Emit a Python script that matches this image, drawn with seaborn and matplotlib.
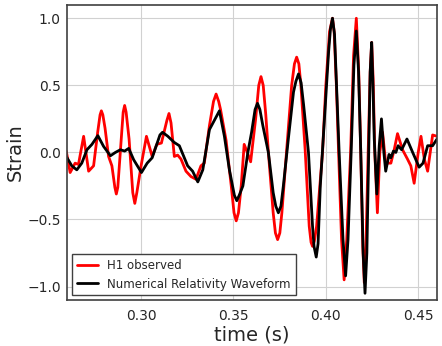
import numpy as np
import pandas as pd
import matplotlib
matplotlib.use("Agg")
import matplotlib.pyplot as plt
import seaborn as sns

# ---------------------------------------------------------
# data (time in s, normalised strain)
# ---------------------------------------------------------
h1_time = [0.2595, 0.2616, 0.2643, 0.2661, 0.2689, 0.2716, 0.2743, 0.2765, 0.2778, 0.2785,
           0.2793, 0.2805, 0.2824, 0.2842, 0.2858, 0.2866, 0.2874, 0.2890, 0.2903, 0.2911,
           0.2919, 0.2935, 0.2955, 0.2966, 0.2977, 0.3000, 0.3029, 0.3060, 0.3085, 0.3110,
           0.3140, 0.3151, 0.3162, 0.3180, 0.3198, 0.3216, 0.3243, 0.3270, 0.3297, 0.3324,
           0.3342, 0.3370, 0.3392, 0.3406, 0.3420, 0.3430, 0.3460, 0.3488, 0.3503, 0.3515,
           0.3527, 0.3542, 0.3558, 0.3575, 0.3593, 0.3620, 0.3637, 0.3649, 0.3661, 0.3675,
           0.3689, 0.3715, 0.3727, 0.3739, 0.3751, 0.3762, 0.3788, 0.3815, 0.3830, 0.3842,
           0.3854, 0.3865, 0.3888, 0.3910, 0.3920, 0.3928, 0.3938, 0.3950, 0.3982, 0.4000,
           0.4020, 0.4036, 0.4045, 0.4057, 0.4069, 0.4085, 0.4099, 0.4113, 0.4134, 0.4150,
           0.4165, 0.4178, 0.4189, 0.4200, 0.4208, 0.4217, 0.4229, 0.4240, 0.4248, 0.4256,
           0.4265, 0.4279, 0.4292, 0.4307, 0.4324, 0.4352, 0.4370, 0.4388, 0.4415, 0.4442,
           0.4460, 0.4478, 0.4500, 0.4515, 0.4533, 0.4551, 0.4578, 0.4602]
h1_strain = [0.01, -0.15, -0.08, -0.09, 0.12, -0.14, -0.10, 0.15, 0.28, 0.31,
             0.28, 0.18, -0.03, -0.10, -0.26, -0.31, -0.26, 0.05, 0.30, 0.35,
             0.30, 0.10, -0.30, -0.38, -0.30, -0.10, 0.12, -0.03, 0.06, 0.07,
             0.24, 0.29, 0.22, -0.03, -0.02, -0.05, -0.14, -0.18, -0.20, -0.10,
             -0.08, 0.20, 0.38, 0.435, 0.38, 0.32, 0.09, -0.25, -0.45, -0.51,
             -0.45, -0.25, 0.06, 0.0, -0.07, 0.25, 0.50, 0.565, 0.50, 0.28,
             0.0, -0.45, -0.60, -0.65, -0.60, -0.45, 0.02, 0.50, 0.66, 0.71,
             0.66, 0.50, 0.02, -0.55, -0.67, -0.70, -0.66, -0.55, 0.0, 0.50,
             0.90, 1.0, 0.90, 0.50, 0.0, -0.65, -0.95, -0.65, 0.0, 0.72,
             1.0, 0.60, 0.0, -0.70, -0.97, -0.70, 0.0, 0.60, 0.82, 0.55,
             0.0, -0.45, 0.0, 0.15, -0.08, -0.08, 0.02, 0.14, 0.02, -0.05,
             -0.10, -0.23, 0.0, 0.12, -0.05, -0.14, 0.13, 0.12]

nr_time = [0.2595, 0.2625, 0.2652, 0.2679, 0.2707, 0.2734, 0.2766, 0.2797, 0.2834, 0.2861,
           0.2888, 0.2911, 0.2933, 0.2960, 0.3002, 0.3033, 0.3060, 0.3102, 0.3116, 0.3145,
           0.3179, 0.3207, 0.3252, 0.3279, 0.3307, 0.3334, 0.3370, 0.3397, 0.3424, 0.3451,
           0.3478, 0.3505, 0.3518, 0.3531, 0.3551, 0.3578, 0.3598, 0.3617, 0.3630, 0.3643,
           0.3659, 0.3689, 0.3715, 0.3729, 0.3743, 0.3757, 0.3770, 0.3797, 0.3825, 0.3838,
           0.3852, 0.3866, 0.3880, 0.3906, 0.3928, 0.3936, 0.3948, 0.3958, 0.3970, 0.3997,
           0.4015, 0.4025, 0.4036, 0.4047, 0.4055, 0.4072, 0.4093, 0.4107, 0.4120, 0.4137,
           0.4152, 0.4165, 0.4177, 0.4189, 0.4202, 0.4212, 0.4222, 0.4232, 0.4240, 0.4248,
           0.4255, 0.4262, 0.4276, 0.4289, 0.4301, 0.4314, 0.4324, 0.4342, 0.4352, 0.4366,
           0.4379, 0.4391, 0.4410, 0.4439, 0.4470, 0.4505, 0.4526, 0.4551, 0.4578, 0.4602]
nr_strain = [-0.03, -0.10, -0.13, -0.08, 0.02, 0.06, 0.125, 0.045, -0.025, 0.0,
             0.02, 0.01, 0.03, -0.055, -0.15, -0.08, -0.04, 0.13, 0.15, 0.12,
             0.075, 0.05, -0.10, -0.14, -0.22, -0.13, 0.17, 0.24, 0.31, 0.12,
             -0.13, -0.32, -0.36, -0.32, -0.25, 0.0, 0.15, 0.32, 0.366, 0.32,
             0.20, 0.0, -0.30, -0.40, -0.45, -0.40, -0.25, 0.10, 0.45, 0.53,
             0.585, 0.52, 0.35, 0.0, -0.55, -0.70, -0.78, -0.68, -0.25, 0.35,
             0.75, 0.92, 1.0, 0.88, 0.60, 0.0, -0.65, -0.92, -0.65, 0.0,
             0.65, 0.905, 0.60, 0.0, -0.75, -1.05, -0.75, 0.0, 0.60, 0.82,
             0.50, 0.10, -0.31, 0.05, 0.25, 0.0, -0.14, -0.015, -0.04, 0.01,
             0.0, 0.05, 0.02, 0.10, 0.0, -0.11, -0.08, 0.05, 0.05, 0.10]

x_ticks = [0.30, 0.35, 0.40, 0.45]
y_ticks = [-1.0, -0.5, 0.0, 0.5, 1.0]

# ---------------------------------------------------------
# style
# ---------------------------------------------------------
sns.set_style("whitegrid", {"axes.edgecolor": "0.25", "grid.color": "0.82"})
plt.rcParams["font.family"] = ["DejaVu Sans"]

fig, ax = plt.subplots(figsize=(4.42, 3.46), dpi=100)
fig.subplots_adjust(left=0.152, right=0.988, top=0.986, bottom=0.133)

sns.lineplot(x=h1_time, y=h1_strain, color="red", linewidth=2, label="H1 observed", ax=ax)
sns.lineplot(x=nr_time, y=nr_strain, color="black", linewidth=2,
             label="Numerical Relativity Waveform", ax=ax)

ax.set_xlim(0.26, 0.46)
ax.set_ylim(-1.1, 1.1)
ax.set_xticks(x_ticks)
ax.set_xticklabels([f"{t:.2f}" for t in x_ticks])
ax.set_yticks(y_ticks)
ax.set_yticklabels([f"{v:.1f}".replace("-", "\u2212") for v in y_ticks])
ax.tick_params(axis="x", labelsize=10, pad=3)
ax.tick_params(axis="y", labelsize=10, pad=1)
ax.set_xlabel("time (s)", fontsize=14, labelpad=2)
ax.set_ylabel("Strain", fontsize=14, labelpad=2)
for s in ax.spines.values():
    s.set_linewidth(1.2)

leg = ax.legend(loc="lower left", fontsize=8.5, fancybox=False, framealpha=1,
                edgecolor="0.25", handlelength=1.8, borderaxespad=0.4)
leg.get_frame().set_linewidth(1.0)

fig.savefig("out.png", dpi=100)
